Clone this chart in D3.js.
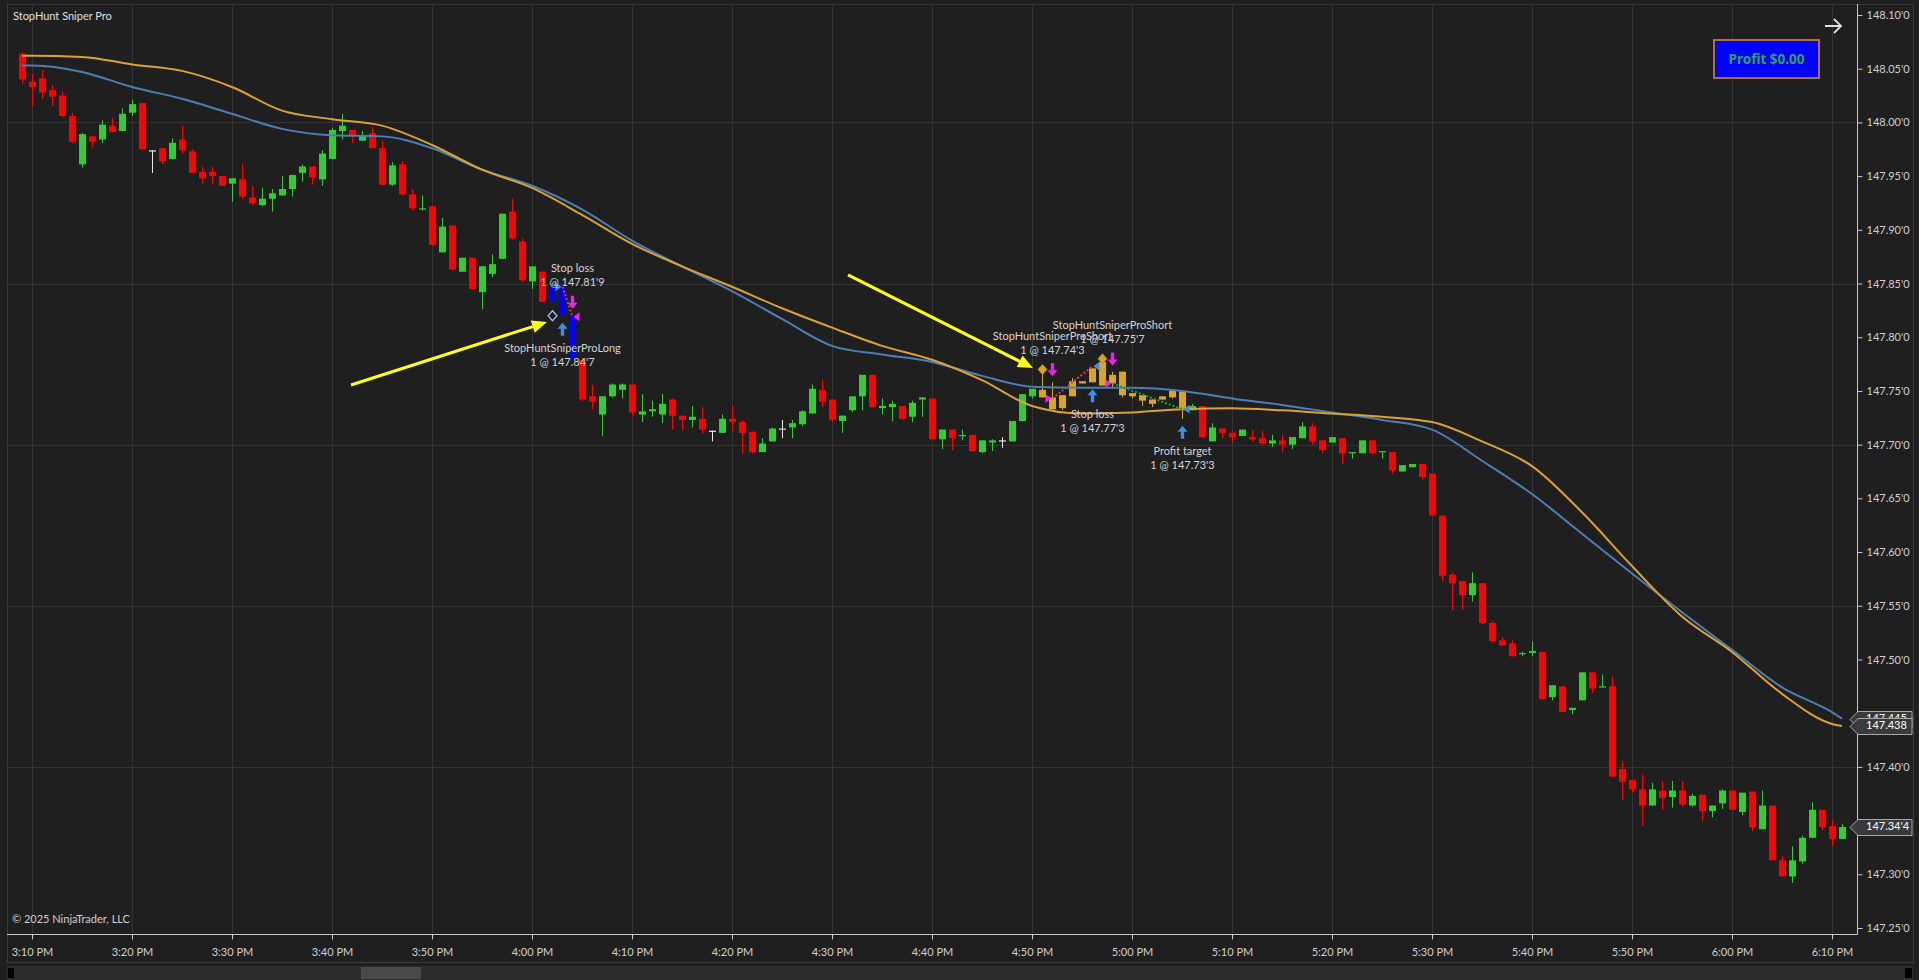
<!DOCTYPE html>
<html><head><meta charset="utf-8">
<script src="https://cdn.jsdelivr.net/npm/d3@7"></script>
<style>html,body{margin:0;padding:0;background:#1f1f1f;overflow:hidden}svg{display:block}</style>
</head><body>
<svg id="c" width="1919" height="980"></svg>
<script>
// ---------------- DATA ----------------
const firstBar = "15:09";
const opens = [
148.064,148.038,148.041,148.030,148.025,148.006,147.961,147.987,147.984,147.997,
147.992,148.009,148.018,147.974,147.976,147.966,147.984,147.973,147.954,147.954,
147.950,147.943,147.947,147.930,147.923,147.929,147.932,147.938,147.953,147.959,
147.947,147.966,147.992,147.993,147.983,147.990,147.976,147.942,147.961,147.933,
147.919,147.922,147.879,147.904,147.861,147.874,147.842,147.859,147.873,147.917,
147.889,147.852,147.861,147.834,147.846,147.820,147.779,147.745,147.728,147.745,
147.751,147.756,147.728,147.731,147.728,147.742,147.727,147.723,147.724,147.713,
147.711,147.724,147.721,147.712,147.693,147.703,147.715,147.716,147.719,147.729,
147.751,147.742,147.722,147.732,147.745,147.765,147.734,147.735,147.736,147.726,
147.742,147.743,147.705,147.714,147.708,147.709,147.693,147.702,147.704,147.703,
147.722,147.745,147.751,147.744,147.734,147.745,147.757,147.758,147.755,147.765,
147.768,147.748,147.746,147.742,147.742,147.744,147.750,147.732,147.736,147.703,
147.715,147.711,147.708,147.707,147.706,147.701,147.704,147.700,147.706,147.717,
147.704,147.702,147.706,147.692,147.692,147.704,147.693,147.693,147.675,147.679,
147.682,147.673,147.634,147.579,147.573,147.560,147.571,147.534,147.518,147.515,
147.505,147.506,147.507,147.465,147.475,147.453,147.462,147.488,147.474,147.475,
147.398,147.388,147.379,147.364,147.378,147.372,147.378,147.364,147.374,147.359,
147.366,147.378,147.358,147.377,147.342,147.364,147.313,147.298,147.312,147.334,
147.360,147.345,147.333];
const highs = [
148.065,148.045,148.049,148.035,148.029,148.009,147.990,147.988,148.002,148.004,
148.013,148.021,148.018,147.974,147.976,147.985,147.997,147.975,147.959,147.959,
147.950,147.948,147.961,147.941,147.939,147.938,147.950,147.951,147.961,147.959,
147.974,147.995,148.008,147.993,147.992,147.996,147.983,147.963,147.964,147.938,
147.932,147.922,147.911,147.904,147.874,147.874,147.866,147.877,147.915,147.929,
147.892,147.866,147.861,147.847,147.848,147.821,147.780,147.756,147.745,147.757,
147.757,147.756,147.747,147.741,147.747,147.743,147.727,147.736,147.735,147.713,
147.728,147.736,147.723,147.712,147.706,147.716,147.723,147.723,147.732,147.756,
147.760,147.742,147.727,147.745,147.765,147.765,147.743,147.741,147.736,147.741,
147.744,147.743,147.714,147.714,147.714,147.709,147.704,147.705,147.707,147.722,
147.747,147.752,147.766,147.758,147.746,147.762,147.759,147.771,147.780,147.768,
147.768,147.748,147.746,147.742,147.745,147.750,147.750,147.738,147.736,147.720,
147.715,147.713,147.714,147.714,147.713,147.709,147.709,147.707,147.721,147.720,
147.704,147.707,147.706,147.693,147.704,147.704,147.694,147.693,147.681,147.682,
147.682,147.673,147.634,147.581,147.573,147.581,147.571,147.536,147.521,147.518,
147.507,147.517,147.507,147.476,147.475,147.455,147.488,147.488,147.486,147.484,
147.405,147.388,147.393,147.385,147.387,147.387,147.387,147.375,147.374,147.364,
147.379,147.378,147.376,147.377,147.378,147.364,147.317,147.326,147.336,147.367,
147.360,147.351,147.347];
const lows = [
148.036,148.015,148.022,148.015,148.005,147.981,147.958,147.977,147.981,147.991,
147.992,148.006,147.975,147.953,147.961,147.966,147.971,147.953,147.943,147.942,
147.941,147.926,147.929,147.923,147.922,147.917,147.932,147.931,147.945,147.942,
147.941,147.966,147.984,147.981,147.983,147.976,147.942,147.941,147.932,147.918,
147.918,147.885,147.879,147.863,147.861,147.845,147.826,147.856,147.873,147.891,
147.852,147.845,147.833,147.832,147.820,147.779,147.741,147.733,147.708,147.744,
147.743,147.726,147.721,147.726,147.720,147.714,147.713,147.716,147.710,147.703,
147.711,147.712,147.692,147.692,147.693,147.703,147.706,147.706,147.717,147.729,
147.735,147.721,147.711,147.730,147.732,147.735,147.728,147.722,147.724,147.721,
147.726,147.705,147.696,147.695,147.704,147.694,147.692,147.694,147.697,147.703,
147.722,147.743,147.744,147.733,147.732,147.745,147.757,147.758,147.755,147.753,
147.744,147.743,147.736,147.735,147.742,147.743,147.724,147.732,147.707,147.703,
147.706,147.701,147.708,147.703,147.700,147.698,147.693,147.696,147.706,147.700,
147.692,147.702,147.682,147.687,147.692,147.691,147.687,147.673,147.675,147.679,
147.667,147.634,147.573,147.546,147.546,147.554,147.533,147.516,147.513,147.503,
147.503,147.503,147.463,147.462,147.451,147.449,147.462,147.469,147.474,147.390,
147.369,147.376,147.345,147.364,147.360,147.362,147.363,147.363,147.350,147.353,
147.361,147.360,147.355,147.340,147.342,147.313,147.298,147.292,147.310,147.334,
147.341,147.326,147.333];
const closes = [
148.040,148.033,148.028,148.024,148.006,147.982,147.989,147.982,147.998,147.991,
148.008,148.017,147.975,147.974,147.964,147.981,147.974,147.953,147.948,147.950,
147.941,147.948,147.931,147.925,147.929,147.934,147.938,147.951,147.959,147.949,
147.971,147.993,147.997,147.988,147.988,147.976,147.942,147.960,147.933,147.920,
147.920,147.886,147.903,147.863,147.874,147.845,147.866,147.868,147.915,147.892,
147.853,147.866,147.833,147.846,147.821,147.780,147.742,147.740,147.745,147.756,
147.756,147.730,147.731,147.733,147.738,147.727,147.723,147.726,147.714,147.713,
147.724,147.721,147.711,147.693,147.701,147.715,147.715,147.720,147.731,147.752,
147.740,147.723,147.727,147.745,147.765,147.735,147.736,147.738,147.724,147.739,
147.744,147.705,147.714,147.706,147.709,147.694,147.704,147.704,147.704,147.722,
147.747,147.752,147.744,147.733,147.746,147.759,147.759,147.771,147.777,147.757,
147.746,147.745,147.741,147.738,147.745,147.750,147.734,147.736,147.707,147.716,
147.711,147.707,147.714,147.705,147.701,147.704,147.700,147.707,147.717,147.703,
147.695,147.707,147.692,147.693,147.704,147.692,147.694,147.676,147.681,147.682,
147.670,147.634,147.578,147.571,147.560,147.571,147.534,147.517,147.513,147.503,
147.506,147.508,147.463,147.476,147.451,147.455,147.488,147.473,147.475,147.391,
147.386,147.379,147.364,147.379,147.371,147.378,147.365,147.373,147.359,147.364,
147.378,147.360,147.376,147.344,147.364,147.313,147.298,147.313,147.334,147.360,
147.344,147.333,147.344];

const blueBars = ["16:02","16:03","16:04"];
const goldBars = ["16:51","16:52","16:53","16:54","16:55","16:56","16:57","16:58","16:59","17:00","17:01","17:02","17:03","17:04","17:05"];

const maTimes = ["15:09","15:10","15:15","15:20","15:25","15:30","15:35","15:40","15:45","15:50","15:55","16:00","16:05","16:10","16:15","16:20","16:25","16:30","16:35","16:40","16:45","16:50","16:55","17:00","17:05","17:10","17:15","17:20","17:25","17:30","17:35","17:40","17:45","17:50","17:55","18:00","18:05","18:10","18:11"];
const goldMA = [148.062,148.062,148.061,148.054,148.048,148.033,148.011,148.003,147.997,147.979,147.956,147.939,147.914,147.887,147.866,147.847,147.827,147.809,147.792,147.779,147.760,147.736,147.729,147.730,147.733,147.734,147.732,147.729,147.726,147.721,147.703,147.680,147.637,147.587,147.540,147.507,147.468,147.440,147.438];
const blueMA = [148.053,148.053,148.047,148.033,148.022,148.008,147.994,147.988,147.987,147.976,147.956,147.941,147.919,147.890,147.866,147.843,147.817,147.792,147.784,147.777,147.764,147.754,147.753,147.753,147.750,147.743,147.737,147.730,147.723,147.714,147.685,147.654,147.617,147.580,147.544,147.509,147.474,147.451,147.445];

const yTicks = [148.10,148.05,148.00,147.95,147.90,147.85,147.80,147.75,147.70,147.65,147.60,147.55,147.50,147.45,147.40,147.35,147.30,147.25];
const yGrid = [148.00,147.85,147.70,147.55,147.40];
const xTicks = ["15:10","15:20","15:30","15:40","15:50","16:00","16:10","16:20","16:30","16:40","16:50","17:00","17:10","17:20","17:30","17:40","17:50","18:00","18:10"];

const strategyName = "StopHuntSniperPro";
const tradeDirections = ["Long","Short","Short"];
const tradeEntryTimes = ["16:03","16:52","16:58"];
const tradeEntryPrices = [147.847,147.743,147.757];
const tradeExitTimes = ["16:04","16:56","17:05"];
const tradeExitPrices = [147.819,147.773,147.733];
const tradeExitNames = ["Stop loss","Stop loss","Profit target"];

const signalTimes = ["16:02","16:51","16:57"];
const signalPrices = [147.820,147.770,147.780];
const signalTypes = ["long","short","short"];

const drawnArrowStart = [["15:41:54",147.7555],["16:31:36",147.858]];
const drawnArrowEnd = [["16:01:30",147.8142],["16:50:06",147.7713]];

const titleText = "StopHunt Sniper Pro";
const copyrightText = "\u00A9 2025 NinjaTrader, LLC";
const profitText = "Profit $0.00";

// ---------------- SETUP ----------------
const FONT = "'Segoe UI', Lato, 'Noto Sans', sans-serif";
const pT = d3.timeParse("%H:%M");
const pTs = d3.timeParse("%H:%M:%S");
const svg = d3.select("#c");
const L = 7, T = 4, R = 1857, B = 934;

const x = d3.scaleTime().domain([pT("15:10"), pT("18:10")]).range([32, 1832]);
const y = d3.scaleLinear().domain([147.25, 148.10]).range([928, 15]);

const barTimes = opens.map((_, i) => d3.timeMinute.offset(pT(firstBar), i));
const bars = barTimes.map((t, i) => ({t, o: opens[i], h: highs[i], l: lows[i], c: closes[i]}));
const key = t => d3.timeFormat("%H:%M")(t);
const blueSet = new Set(blueBars), goldSet = new Set(goldBars);
const barByKey = new Map(bars.map(b => [key(b.t), b]));

svg.append("rect").attr("width", 1919).attr("height", 980).attr("fill", "#1f1f1f");

// panel border
svg.append("rect").attr("x", L + 0.5).attr("y", T + 0.5).attr("width", 1913 - L).attr("height", 962 - T)
  .attr("fill", "none").attr("stroke", "#3a3a3a");

svg.append("defs").append("clipPath").attr("id", "plot")
  .append("rect").attr("x", L).attr("y", T).attr("width", R - L).attr("height", B - T);

const plot = svg.append("g").attr("clip-path", "url(#plot)");

// grid
plot.selectAll(".vg").data(xTicks).join("line")
  .attr("x1", d => Math.round(x(pT(d))) + 0.5).attr("x2", d => Math.round(x(pT(d))) + 0.5)
  .attr("y1", T).attr("y2", B).attr("stroke", "#333").attr("stroke-width", 1);
plot.selectAll(".hg").data(yGrid).join("line")
  .attr("y1", d => Math.round(y(d)) + 0.5).attr("y2", d => Math.round(y(d)) + 0.5)
  .attr("x1", L).attr("x2", R).attr("stroke", "#333").attr("stroke-width", 1);

// candles
function barColor(b) {
  const k = key(b.t);
  if (blueSet.has(k)) return "#0000ff";
  if (goldSet.has(k)) return "#daa520";
  if (b.c > b.o) return "#32cd32";
  if (b.c < b.o) return "#ff0000";
  return "#e8e8e8";
}
const cg = plot.append("g");
bars.forEach(b => {
  const cx = Math.round(x(b.t));
  const col = barColor(b);
  cg.append("line").attr("x1", cx + 0.5).attr("x2", cx + 0.5)
    .attr("y1", y(b.h)).attr("y2", y(b.l)).attr("stroke", col).attr("stroke-width", 1);
  const top = y(Math.max(b.o, b.c)), bot = y(Math.min(b.o, b.c));
  cg.append("rect").attr("x", cx - 3).attr("width", 7)
    .attr("y", top).attr("height", Math.max(1.2, bot - top)).attr("fill", col);
});

// moving averages
const maLine = vals => d3.line().x((d, i) => x(pT(maTimes[i]))).y(d => y(d)).curve(d3.curveMonotoneX)(vals);
plot.append("path").attr("d", maLine(blueMA)).attr("fill", "none").attr("stroke", "#4a7fb5").attr("stroke-width", 2);
plot.append("path").attr("d", maLine(goldMA)).attr("fill", "none").attr("stroke", "#d9a236").attr("stroke-width", 2);

// trade markers
const BUY = "#3f8fe6", SELL = "#ee22ee";
const fmtExec = p => { const s = p.toFixed(3); return s.slice(0, -1) + "'" + s.slice(-1); };
const tg = plot.append("g");
function upArrow(cx, top, col) {
  tg.append("path").attr("d", `M${cx},${top} L${cx + 5},${top + 6} L${cx + 1.7},${top + 6} L${cx + 1.7},${top + 13} L${cx - 1.7},${top + 13} L${cx - 1.7},${top + 6} L${cx - 5},${top + 6} Z`).attr("fill", col);
}
function downArrow(cx, bot, col) {
  tg.append("path").attr("d", `M${cx},${bot} L${cx + 5},${bot - 6} L${cx + 1.7},${bot - 6} L${cx + 1.7},${bot - 13} L${cx - 1.7},${bot - 13} L${cx - 1.7},${bot - 6} L${cx - 5},${bot - 6} Z`).attr("fill", col);
}
function label(cx, cy, txt) {
  tg.append("text").attr("x", cx).attr("y", cy).attr("text-anchor", "middle").attr("dominant-baseline", "middle")
    .attr("font-family", FONT).attr("font-size", 11).attr("fill", "#d4d4d4").text(txt);
}
function execution(timeStr, price, isBuy, name) {
  const b = barByKey.get(timeStr);
  const cx = Math.round(x(b.t)) + 0.5;
  if (isBuy) {
    const top = y(b.l) + 7;
    upArrow(cx, top, BUY);
    label(cx, top + 13 + 13, name);
    label(cx, top + 13 + 27, "1 @ " + fmtExec(price));
  } else {
    const bot = y(b.h) - 6;
    downArrow(cx, bot, SELL);
    label(cx, bot - 13 - 12.5, "1 @ " + fmtExec(price));
    label(cx, bot - 13 - 26.5, name);
  }
}
tradeDirections.forEach((dir, i) => {
  const isLong = dir === "Long";
  const ex0 = Math.round(x(pT(tradeEntryTimes[i]))) + 0.5, ey0 = y(tradeEntryPrices[i]);
  const ex1 = Math.round(x(pT(tradeExitTimes[i]))) + 0.5, ey1 = y(tradeExitPrices[i]);
  const pnl = isLong ? tradeExitPrices[i] - tradeEntryPrices[i] : tradeEntryPrices[i] - tradeExitPrices[i];
  tg.append("line").attr("x1", ex0).attr("y1", ey0).attr("x2", ex1).attr("y2", ey1)
    .attr("stroke", pnl > 0 ? "#1f9e3a" : "#e03a4a").attr("stroke-width", 2).attr("stroke-dasharray", "2,2");
  const entryCol = isLong ? BUY : SELL, exitCol = isLong ? SELL : BUY;
  tg.append("path").attr("d", `M${ex0 - 7},${ey0 - 4.5} L${ex0 - 1},${ey0} L${ex0 - 7},${ey0 + 4.5} Z`).attr("fill", entryCol);
  tg.append("path").attr("d", `M${ex1 + 7},${ey1 - 4.5} L${ex1 + 1},${ey1} L${ex1 + 7},${ey1 + 4.5} Z`).attr("fill", exitCol);
  execution(tradeEntryTimes[i], tradeEntryPrices[i], isLong, strategyName + dir);
  execution(tradeExitTimes[i], tradeExitPrices[i], !isLong, tradeExitNames[i]);
});

// signal diamonds
signalTimes.forEach((t, i) => {
  const cx = Math.round(x(pT(t))) + 0.5, cy = y(signalPrices[i]);
  const d = `M${cx},${cy - 5} L${cx + 4.5},${cy} L${cx},${cy + 5} L${cx - 4.5},${cy} Z`;
  if (signalTypes[i] === "long") tg.append("path").attr("d", d).attr("fill", "none").attr("stroke", "#9dbcff").attr("stroke-width", 1.3);
  else tg.append("path").attr("d", d).attr("fill", "#daa520").attr("stroke", "#b88a1a").attr("stroke-width", 0.8);
});

// drawn yellow arrows
drawnArrowStart.forEach((s, i) => {
  const e = drawnArrowEnd[i];
  const x0 = x(pTs(s[0])), y0 = y(s[1]), x1 = x(pTs(e[0])), y1 = y(e[1]);
  const ang = Math.atan2(y1 - y0, x1 - x0), hl = 15, hw = 6.5;
  const bx = x1 - hl * Math.cos(ang), by = y1 - hl * Math.sin(ang);
  plot.append("line").attr("x1", x0).attr("y1", y0).attr("x2", bx).attr("y2", by)
    .attr("stroke", "#ffff1a").attr("stroke-width", 3);
  plot.append("path").attr("d", `M${x1},${y1} L${bx - hw * Math.sin(ang)},${by + hw * Math.cos(ang)} L${bx + hw * Math.sin(ang)},${by - hw * Math.cos(ang)} Z`)
    .attr("fill", "#ffff1a");
});

// title & copyright
svg.append("text").attr("x", 13).attr("y", 17).attr("dominant-baseline", "middle")
  .attr("font-family", FONT).attr("font-size", 11).attr("fill", "#e0e0e0").text(titleText);
svg.append("text").attr("x", 12).attr("y", 920).attr("dominant-baseline", "middle")
  .attr("font-family", FONT).attr("font-size", 11).attr("fill", "#d0d0d0").text(copyrightText);

// price markers on axis
const markers = [
  {p: blueMA[blueMA.length - 1], t: blueMA[blueMA.length - 1].toFixed(3)},
  {p: goldMA[goldMA.length - 1], t: goldMA[goldMA.length - 1].toFixed(3)},
  {p: closes[closes.length - 1], t: fmtExec(closes[closes.length - 1])}
];
const hidden = v => markers.some(m => Math.abs(y(m.p) - y(v)) < 14);

// axes
const yAxis = d3.axisRight(y).tickValues(yTicks).tickSize(5).tickPadding(4).tickFormat(d => d.toFixed(2) + "'0");
const ya = svg.append("g").attr("transform", `translate(${R + 0.5},0)`).call(yAxis);
ya.select(".domain").remove();
ya.selectAll(".tick").filter(d => hidden(d)).remove();
ya.selectAll("line").attr("stroke", "#c8c8c8");
ya.selectAll("text").attr("fill", "#d0d0d0").attr("font-family", FONT).attr("font-size", 11);
svg.append("line").attr("x1", R + 0.5).attr("x2", R + 0.5).attr("y1", T).attr("y2", B + 0.5).attr("stroke", "#c8c8c8");

const xAxis = d3.axisBottom(x).tickValues(xTicks.map(pT)).tickSize(5).tickPadding(9).tickFormat(d3.timeFormat("%-I:%M %p"));
const xa = svg.append("g").attr("transform", `translate(0,${B + 0.5})`).call(xAxis);
xa.select(".domain").remove();
xa.selectAll("line").attr("stroke", "#c8c8c8");
xa.selectAll("text").attr("fill", "#d0d0d0").attr("font-family", FONT).attr("font-size", 11);
svg.append("line").attr("x1", L).attr("x2", R + 0.5).attr("y1", B + 0.5).attr("y2", B + 0.5).attr("stroke", "#c8c8c8");

markers.forEach(m => {
  const cy = Math.round(y(m.p)) + 0.5;
  svg.append("path").attr("d", `M1850,${cy} L1858,${cy - 8} H1912 V${cy + 8} H1858 Z`)
    .attr("fill", "#3a3a3a").attr("stroke", "#a8a8a8").attr("stroke-width", 1);
  svg.append("text").attr("x", 1866).attr("y", cy).attr("dominant-baseline", "middle")
    .attr("font-family", FONT).attr("font-size", 11).attr("fill", "#ffffff").text(m.t);
});

// profit box
svg.append("rect").attr("x", 1714).attr("y", 40).attr("width", 105).attr("height", 38)
  .attr("fill", "#0000ff").attr("stroke", "#b07040").attr("stroke-width", 2);
svg.append("text").attr("x", 1766.5).attr("y", 60).attr("text-anchor", "middle").attr("dominant-baseline", "middle")
  .attr("font-family", "'Noto Sans', 'Open Sans', sans-serif").attr("font-weight", 700).attr("font-size", 13.5)
  .attr("fill", "#2fa35a").text(profitText);

// top-right arrow
svg.append("path").attr("d", "M1825,26 H1841 M1834,19 L1841,26 L1834,33").attr("fill", "none")
  .attr("stroke", "#e0e0e0").attr("stroke-width", 1.8);

// scrollbar
svg.append("rect").attr("x", 7).attr("y", 966).attr("width", 1906).attr("height", 14).attr("fill", "#2c2c2c");
svg.append("rect").attr("x", 361).attr("y", 967).attr("width", 60).attr("height", 12).attr("fill", "#4a4a4a");
svg.append("rect").attr("x", 8).attr("y", 968).attr("width", 6).attr("height", 10).attr("fill", "#000");
svg.append("rect").attr("x", 1905).attr("y", 968).attr("width", 7).attr("height", 10).attr("fill", "#000");
</script>
</body></html>
